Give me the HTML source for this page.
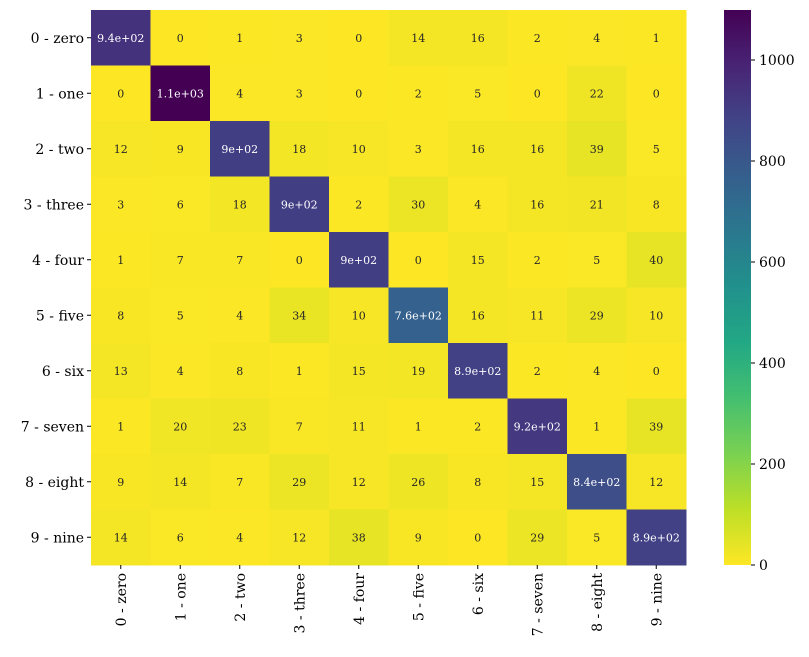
<!DOCTYPE html>
<html><head><meta charset="utf-8"><style>
html,body{margin:0;padding:0;background:#fff;}
svg{display:block;font-family:"DejaVu Serif","Liberation Serif",serif;}
</style></head><body>
<svg id="chart" width="809" height="657" viewBox="0 0 809 657">
<defs>
<linearGradient id="cbgrad" x1="0" y1="1" x2="0" y2="0">
<stop offset="0" stop-color="#fde725"/><stop offset="0.1" stop-color="#bddf26"/><stop offset="0.2" stop-color="#7ad151"/><stop offset="0.3" stop-color="#44bf70"/><stop offset="0.4" stop-color="#22a884"/><stop offset="0.5" stop-color="#21918c"/><stop offset="0.6" stop-color="#2a788e"/><stop offset="0.7" stop-color="#355f8d"/><stop offset="0.8" stop-color="#414487"/><stop offset="0.9" stop-color="#482475"/><stop offset="1" stop-color="#440154"/>
</linearGradient>
</defs>
<g id="cells"></g>
<g id="axes"></g>
<rect x="724" y="10" width="27" height="555" fill="url(#cbgrad)"/>
<g id="cbticks"></g>
</svg>
<script>
const labels = ["0 - zero","1 - one","2 - two","3 - three","4 - four","5 - five","6 - six","7 - seven","8 - eight","9 - nine"];
const matrix = [
[940,0,1,3,0,14,16,2,4,1],
[0,1099,4,3,0,2,5,0,22,0],
[12,9,900,18,10,3,16,16,39,5],
[3,6,18,900,2,30,4,16,21,8],
[1,7,7,0,900,0,15,2,5,40],
[8,5,4,34,10,760,16,11,29,10],
[13,4,8,1,15,19,890,2,4,0],
[1,20,23,7,11,1,2,920,1,39],
[9,14,7,29,12,26,8,15,840,12],
[14,6,4,12,38,9,0,29,5,890]
];
const cbTicks = [0,200,400,600,800,1000];

const NS="http://www.w3.org/2000/svg";
const L=91,T=10,W=595,H=555,CBX=724,CBW=27;
const n=labels.length,cw=W/n,ch=H/n;
let vmax=0;matrix.forEach(r=>r.forEach(v=>{if(v>vmax)vmax=v;}));
const vir=["#fde725","#bddf26","#7ad151","#44bf70","#22a884","#21918c","#2a788e","#355f8d","#414487","#482475","#440154"];
function hex(h){return [1,3,5].map(i=>parseInt(h.substr(i,2),16));}
function color(t){t=Math.max(0,Math.min(1,t));const p=t*10,i=Math.min(9,Math.floor(p)),f=p-i;const a=hex(vir[i]),b=hex(vir[i+1]);return "rgb("+a.map((x,k)=>Math.round(x+(b[k]-x)*f)).join(",")+")";}
function fmt(v){if(Math.abs(v)<100)return String(Math.round(v));let s=v.toExponential(1);let [m,e]=s.split("e");m=m.replace(/\.0$/,"");let sign=e[0]==="-"?"-":"+";let d=e.replace(/[+-]/,"");if(d.length<2)d="0"+d;return m+"e"+sign+d;}
function el(tag,attrs,parent,text){const e=document.createElementNS(NS,tag);for(const k in attrs)e.setAttribute(k,attrs[k]);if(text!==undefined)e.textContent=text;parent.appendChild(e);return e;}
const xS=j=>L+j*cw, yS=i=>T+i*ch, cbY=v=>T+H-v/vmax*H;
const cells=document.getElementById("cells"),axes=document.getElementById("axes"),cbt=document.getElementById("cbticks");
matrix.forEach((row,i)=>row.forEach((v,j)=>{
 const r=el("rect",{x:xS(j),y:yS(i),width:cw+0.5,height:ch+0.5,fill:color(v/vmax)},cells);
 
 
 const t=el("text",{x:xS(j)+cw/2,y:yS(i)+ch/2+4,"text-anchor":"middle","font-size":"11",fill:v/vmax>0.5?"#fff":"#262626"},cells,fmt(v));
 
 
}));
labels.forEach((lb,i)=>{
 const y=yS(i)+ch/2;
 el("line",{x1:L-4,y1:y,x2:L,y2:y,stroke:"#000","stroke-width":1},axes);
 const t=el("text",{x:L-7,y:y+5,"text-anchor":"end","font-size":"14",fill:"#000"},axes,lb);
 
 
 const x=xS(i)+cw/2;
 el("line",{x1:x,y1:T+H,x2:x,y2:T+H+4,stroke:"#000","stroke-width":1},axes);
 const t2=el("text",{transform:"translate("+(x+5)+","+(T+H+8)+") rotate(-90)","text-anchor":"end","font-size":"14",fill:"#000"},axes,lb);
 
 
});
cbTicks.forEach(v=>{
 const y=cbY(v);
 el("line",{x1:CBX+CBW,y1:y,x2:CBX+CBW+4,y2:y,stroke:"#000","stroke-width":1},cbt);
 const t=el("text",{x:CBX+CBW+8,y:y+5,"font-size":"14",fill:"#000"},cbt,String(v));
 
 
});
</script>
</body></html>
